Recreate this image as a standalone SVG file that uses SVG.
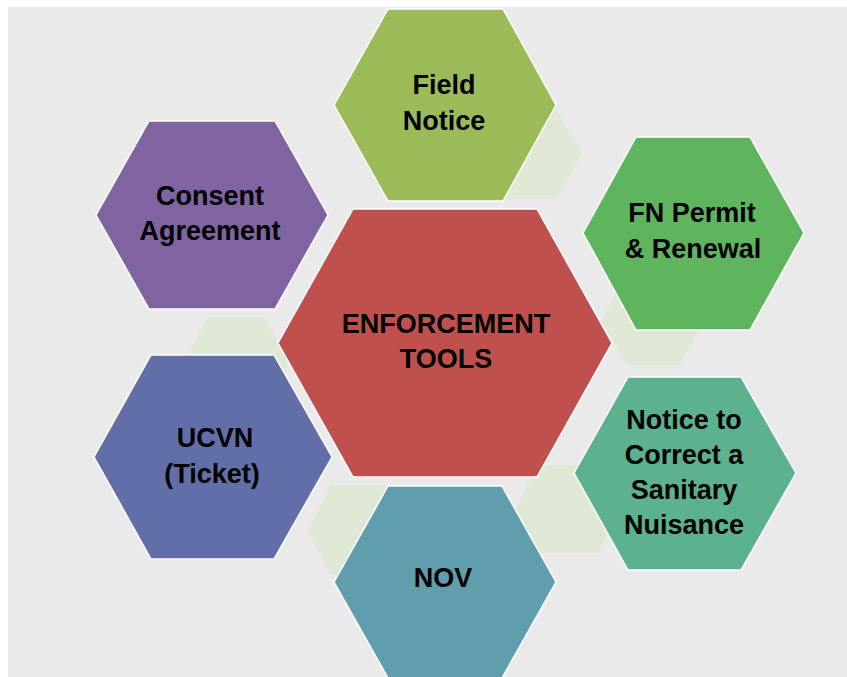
<svg xmlns="http://www.w3.org/2000/svg" width="847" height="677" viewBox="0 0 847 677">
<style>
  .hex { stroke: #ffffff; stroke-width: 1.5; stroke-linejoin: miter; }
  .ghost { fill: #dfe8d5; stroke: none; }
  .lbl { font-family: "Liberation Sans", Arial, sans-serif; font-weight: bold; font-size: 27px; fill: #000000; text-anchor: middle; }
</style>
<rect x="0" y="0" width="847" height="677" fill="#ffffff"/>
<rect x="8" y="7" width="839" height="670" fill="#eaeaea"/>

<g id="connectors">
  <polygon class="ghost" points="478,154 504,109 556,109 582,154 556,199 504,199"/>
  <polygon class="ghost" points="601,320 627,275 679,275 705,320 679,365 627,365"/>
  <polygon class="ghost" points="516,509 537,465 598,465 622,509 598,553 537,553"/>
  <polygon class="ghost" points="308,530 331,485 390,485 413,530 390,575 331,575"/>
  <polygon class="ghost" points="184,362 208,317 263,317 289,362 263,407 208,407"/>
</g>

<g id="field-notice">
  <polygon class="hex" fill="#9bbb59" points="334,105 388,9 503,9 556,105 503,201 388,201"/>
  <text class="lbl" x="444" y="94">Field</text>
  <text class="lbl" x="444" y="130">Notice</text>
</g>

<g id="fn-permit">
  <polygon class="hex" fill="#5eb55e" points="583,233 636,137 750,137 804,233 750,330 636,330"/>
  <text class="lbl" x="692" y="222">FN Permit</text>
  <text class="lbl" x="693" y="258">&amp; Renewal</text>
</g>

<g id="consent-agreement">
  <polygon class="hex" fill="#8064a2" points="96,215 149,121 275,121 328,215 275,309 149,309"/>
  <text class="lbl" x="210" y="205">Consent</text>
  <text class="lbl" x="210" y="240">Agreement</text>
</g>

<g id="ucvn">
  <polygon class="hex" fill="#616ea8" points="94,457 151,355 274,355 332,457 274,559 151,559"/>
  <text class="lbl" x="215" y="447">UCVN</text>
  <text class="lbl" x="212" y="483">(Ticket)</text>
</g>

<g id="nov">
  <polygon class="hex" fill="#609ead" points="334,582 388,486 502,486 556,582 502,678 388,678"/>
  <text class="lbl" x="443" y="587">NOV</text>
</g>

<g id="notice-to-correct">
  <polygon class="hex" fill="#5cb28e" points="574,473 628,377 741,377 796,473 741,570 628,570"/>
  <text class="lbl" x="684" y="429">Notice to</text>
  <text class="lbl" x="684" y="464">Correct a</text>
  <text class="lbl" x="684" y="499">Sanitary</text>
  <text class="lbl" x="684" y="534">Nuisance</text>
</g>

<g id="enforcement-tools">
  <polygon class="hex" fill="#c0504d" points="278,343 353,209 537,209 612,343 537,477 353,477"/>
  <text class="lbl" x="446" y="333">ENFORCEMENT</text>
  <text class="lbl" x="446" y="368">TOOLS</text>
</g>
</svg>
